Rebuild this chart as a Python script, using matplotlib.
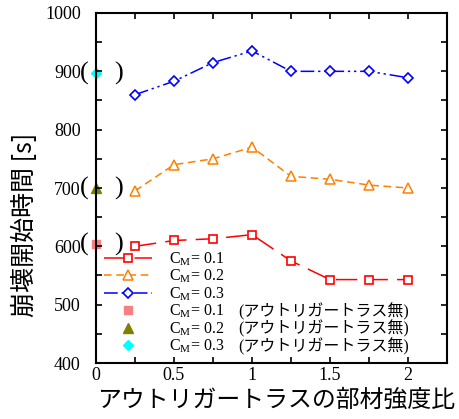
import numpy as np
import matplotlib
matplotlib.use('Agg')
import matplotlib.pyplot as plt
from matplotlib.ticker import MultipleLocator

plt.rcParams['font.family'] = ['Liberation Serif', 'Noto Sans CJK JP']
plt.rcParams['mathtext.fontset'] = 'custom'
plt.rcParams['mathtext.rm'] = 'Liberation Serif'
plt.rcParams['mathtext.it'] = 'Liberation Serif:italic'

# 部材強度比
ratio = [0.25, 0.5, 0.75, 1.0, 1.25, 1.5, 1.75, 2.0]
# 崩壊開始時間 [s]
t_cm01 = [600, 610, 613, 620, 575, 543, 543, 543]
t_cm02 = [695, 740, 750, 770, 720, 715, 705, 700]
t_cm03 = [860, 883, 915, 935, 900, 900, 900, 889]
# アウトリガートラス無しの場合
base_t = [604, 700, 897]

labels = ['C$_{\\rm M}$= 0.1', 'C$_{\\rm M}$= 0.2', 'C$_{\\rm M}$= 0.3']
no_truss = '(アウトリガートラス無)'

fig = plt.figure(figsize=(4.6, 4.19), dpi=100)
ax = fig.add_axes([96/460, 1-363/419, 351/460, 350/419])

ax.plot(ratio, t_cm01, color='red', lw=1.1, ls=(0, (14, 6)), marker='s',
        ms=5.5, mfc='white', mew=1.2, label=labels[0])
ax.plot(ratio, t_cm02, color='#ff8000', lw=1.1, ls=(0, (5, 3)), marker='^',
        ms=6.5, mfc='white', mew=1.1, label=labels[1])
ax.plot(ratio, t_cm03, color='blue', lw=1.1, ls=(0, (9, 2.5, 1.5, 2.5, 1.5, 2.5)),
        marker='D', ms=5.5, mfc='white', mew=1.2, label=labels[2])

ax.plot([0], [base_t[0]], ls='none', marker='s', ms=6, color='#f88080',
        clip_on=False, zorder=1, label=labels[0])
ax.plot([0], [base_t[1]], ls='none', marker='^', ms=6.5, color='#808000',
        clip_on=False, zorder=1, label=labels[1])
ax.plot([0], [base_t[2]], ls='none', marker='D', ms=5.5, color='#00ffff',
        clip_on=False, zorder=1, label=labels[2])

# 括弧
for v in base_t:
    ax.annotate('(', (0, v), xytext=(-8.5, 0), textcoords='offset points',
                ha='center', va='center', fontsize=19, annotation_clip=False)
    ax.annotate(')', (0, v), xytext=(16.5, 0), textcoords='offset points',
                ha='center', va='center', fontsize=19, annotation_clip=False)

ax.set_xlim(0, 2.25)
ax.set_ylim(400, 1000)
ax.xaxis.set_major_locator(MultipleLocator(0.5))
ax.xaxis.set_minor_locator(MultipleLocator(0.25))
ax.yaxis.set_major_locator(MultipleLocator(100))
ax.yaxis.set_minor_locator(MultipleLocator(50))
ax.set_xticks([0, 0.5, 1, 1.5, 2])
ax.set_xticklabels(['0', '0.5', '1', '1.5', '2'])
ax.tick_params(which='both', direction='in', top=True, right=True,
               length=4.5, width=1.2, labelsize=13)
ax.tick_params(axis='x', pad=3)
ax.tick_params(axis='y', pad=11)
for s in ax.spines.values():
    s.set_linewidth(1.5)

leg = ax.legend(loc='lower left', frameon=False, fontsize=11.5,
                handlelength=3.0, handletextpad=1.1, labelspacing=0.0,
                borderaxespad=0.1, bbox_to_anchor=(0.0, 0.0))

fig.canvas.draw()
for t in leg.get_texts()[3:]:
    bb = t.get_window_extent()
    y = (bb.y0 + bb.y1) / 2 / fig.bbox.height
    fig.text(238/460, y, no_truss, ha='left', va='center', fontsize=11.5,
             family=['Liberation Serif', 'Noto Sans CJK JP'])

fig.text(25/460, 1-225/419, '崩壊開始時間 [s]', rotation=90, ha='center',
         va='center', fontsize=18, family='Noto Sans CJK JP')
fig.text(276/460, 1-400/419, 'アウトリガートラスの部材強度比', ha='center',
         va='center', fontsize=17.2, family='Noto Sans CJK JP')

fig.savefig('out.png', dpi=100)
